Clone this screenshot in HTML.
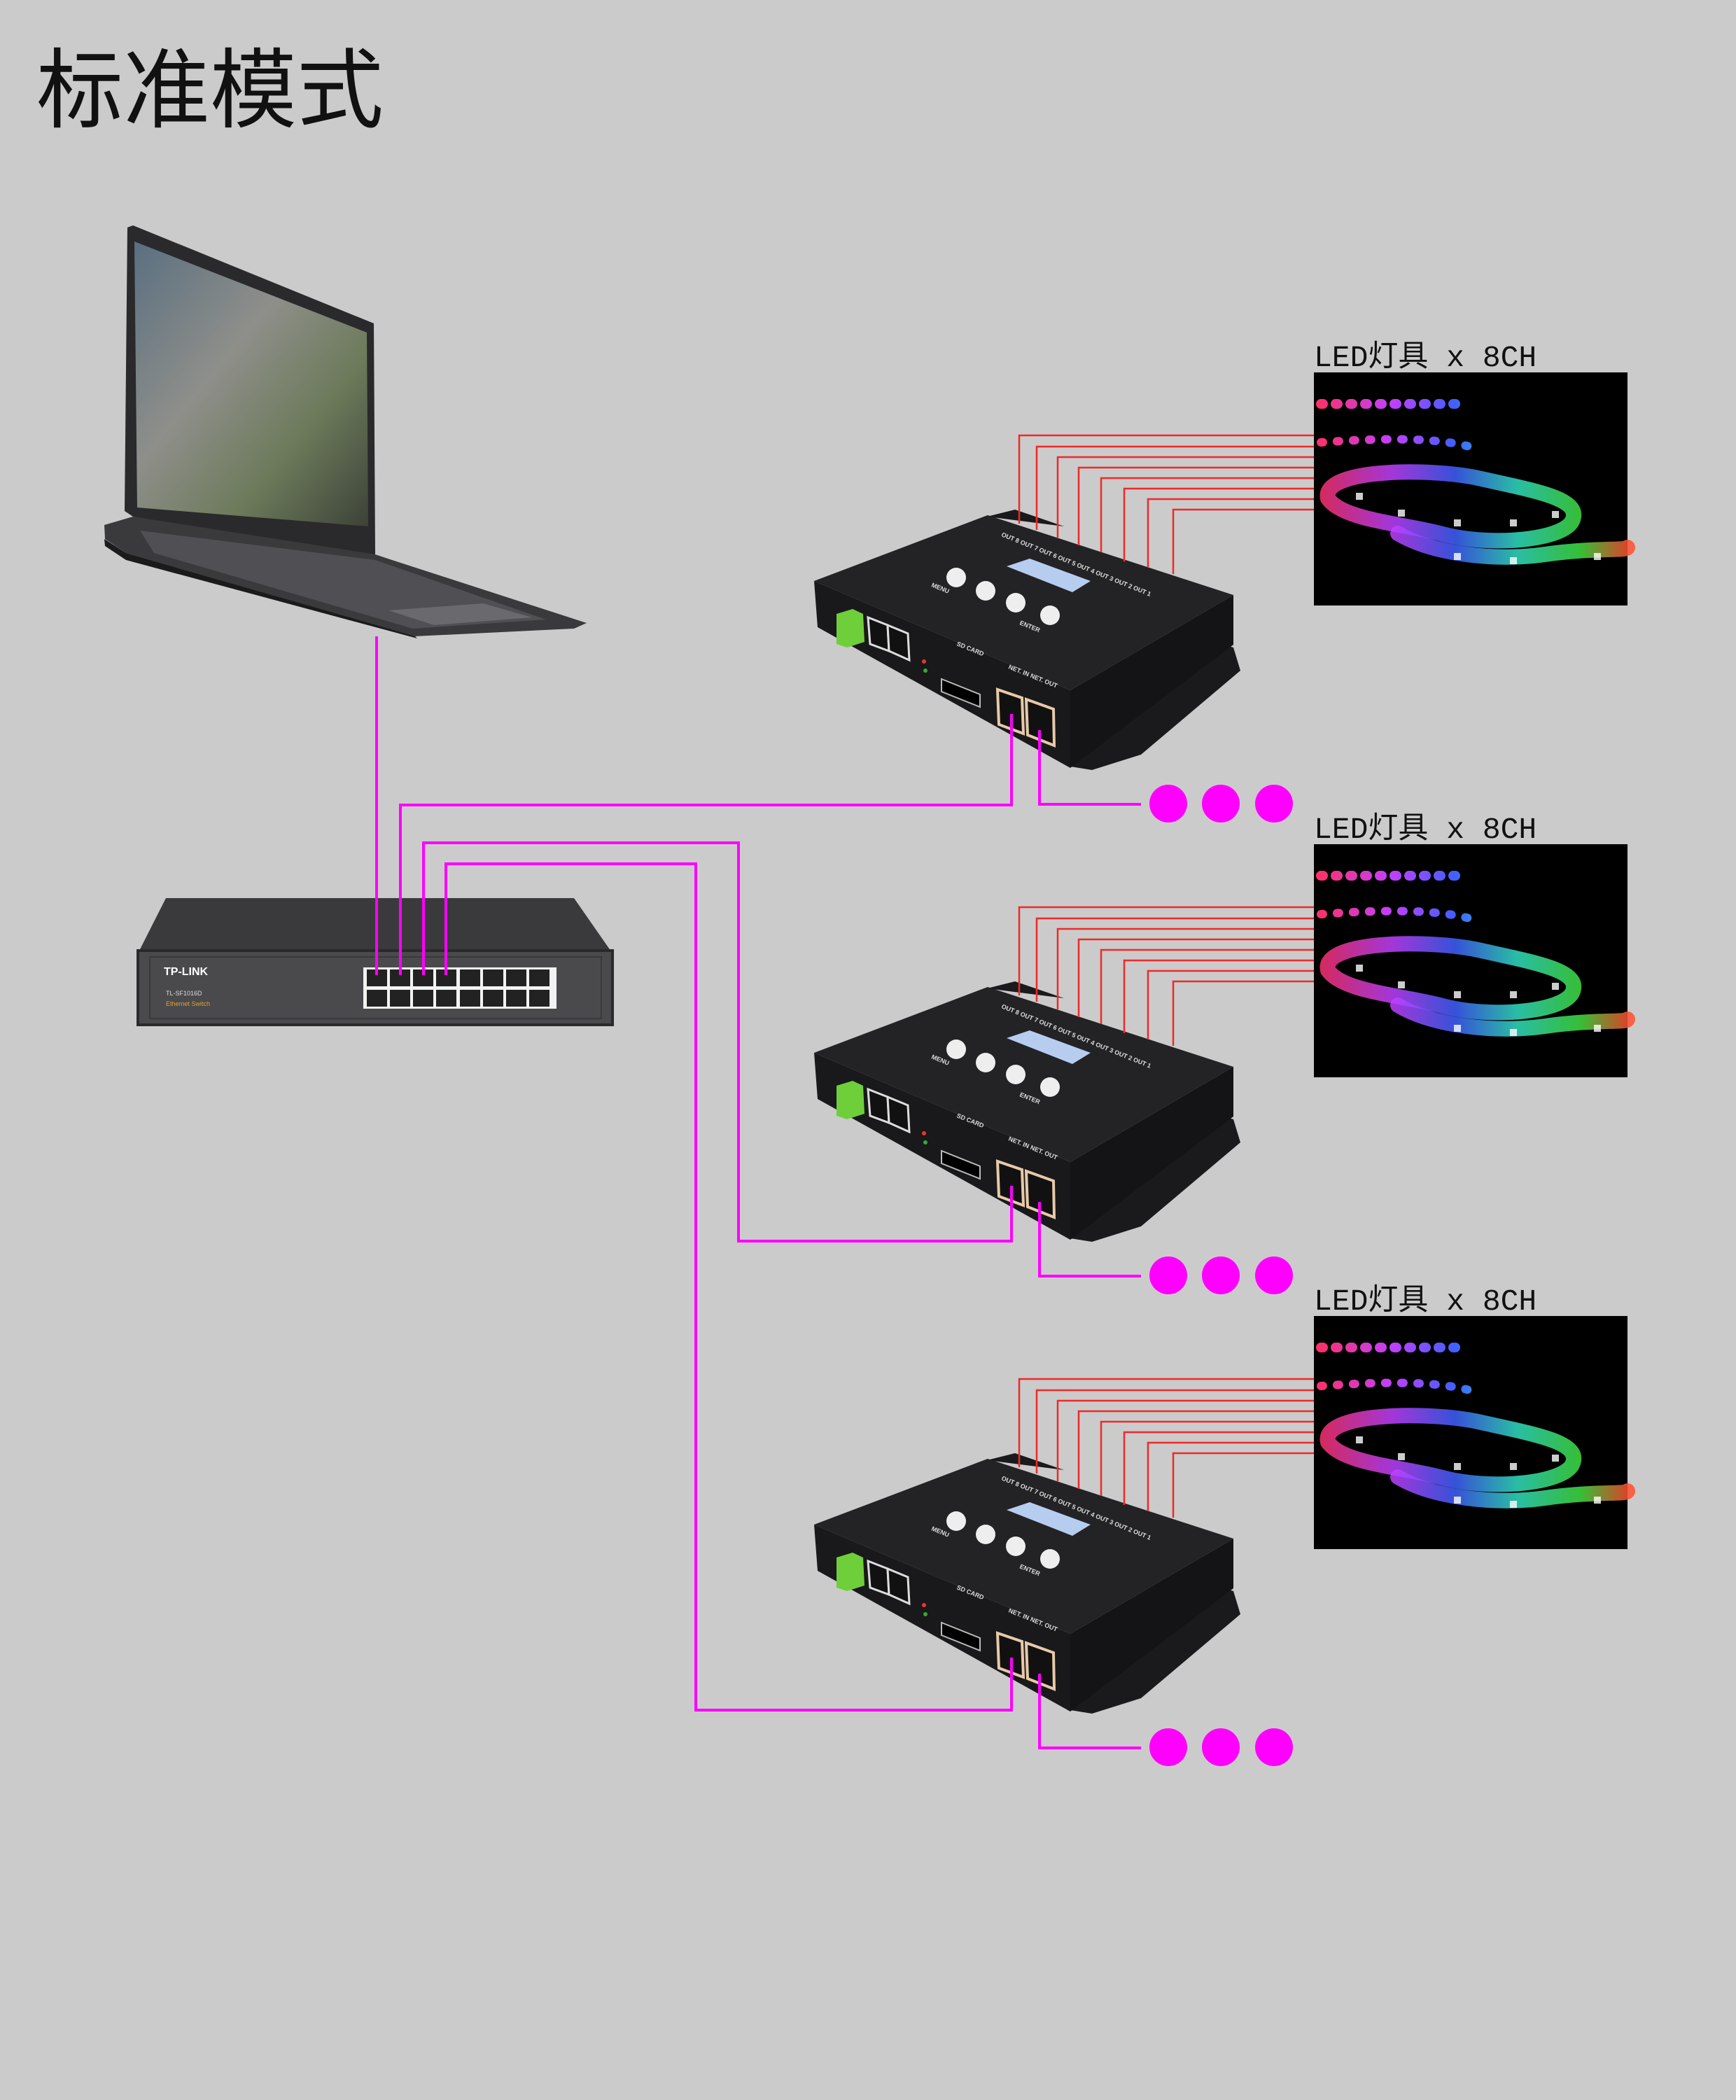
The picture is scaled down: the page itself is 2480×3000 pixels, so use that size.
<!DOCTYPE html>
<html><head><meta charset="utf-8"><style>
html,body{margin:0;padding:0;background:#cbcbcb;}
body{width:2480px;height:3000px;position:relative;overflow:hidden;font-family:"Liberation Sans","Noto Sans CJK SC",sans-serif;}
.title{position:absolute;left:52px;top:68px;font-size:124px;line-height:1;color:#111;font-family:"Liberation Sans","Noto Sans CJK SC",sans-serif;}
.lbl{position:absolute;left:1877px;font-size:43px;line-height:1;color:#111;font-family:"Liberation Mono","Noto Sans CJK SC",monospace;white-space:pre;}
svg{position:absolute;left:0;top:0;}
</style></head><body>
<div class="title">标准模式</div>
<div class="lbl" style="top:490px">LED灯具 x 8CH</div>
<div class="lbl" style="top:1164px">LED灯具 x 8CH</div>
<div class="lbl" style="top:1838px">LED灯具 x 8CH</div>
<svg width="2480" height="3000" viewBox="0 0 2480 3000">
<defs>
<linearGradient id="scr" x1="0" y1="0" x2="1" y2="1">
<stop offset="0" stop-color="#5a6f80"/><stop offset="0.4" stop-color="#8e8f8a"/><stop offset="0.7" stop-color="#6c7a5a"/><stop offset="1" stop-color="#3c4238"/></linearGradient>
<linearGradient id="strip" gradientUnits="userSpaceOnUse" x1="0" y1="0" x2="448" y2="0">
<stop offset="0" stop-color="#ff3060"/><stop offset="0.25" stop-color="#c040ff"/><stop offset="0.45" stop-color="#4060ff"/><stop offset="0.65" stop-color="#30e0c0"/><stop offset="0.85" stop-color="#40e040"/><stop offset="1" stop-color="#ff5030"/></linearGradient>
<g id="led">
<rect x="0" y="0" width="448" height="333" fill="#000"/>
<g fill="none" stroke="url(#strip)" stroke-linecap="round">
<path d="M10 45 L215 45" stroke-width="14" stroke-dasharray="3 18"/>
<path d="M10 100 C80 95 180 90 235 110" stroke-width="12" stroke-dasharray="3 20"/>
<path d="M20 180 C10 140 150 135 230 150 C320 170 380 180 370 210 C360 240 250 250 180 230 C120 215 40 210 20 180 Z" stroke-width="22" opacity="0.85"/>
<path d="M120 230 C170 260 260 270 330 260 C400 250 448 255 448 250" stroke-width="22" opacity="0.85"/>
</g>
<g fill="#fff" opacity="0.8">
<rect x="60" y="172" width="10" height="10"/><rect x="120" y="196" width="10" height="10"/><rect x="200" y="210" width="10" height="10"/><rect x="280" y="210" width="10" height="10"/><rect x="340" y="198" width="10" height="10"/><rect x="200" y="258" width="10" height="10"/><rect x="280" y="264" width="10" height="10"/><rect x="400" y="258" width="10" height="10"/>
</g>
</g>
<g id="ctrl">
<polygon points="1718,912 1762,925 1772,958 1630,1078 1560,1100 1529,1095" fill="#1a1a1c"/>
<polygon points="1410,738 1450,728 1520,752" fill="#1a1a1c"/>
<polygon points="1529,986 1762,850 1762,921 1529,1097" fill="#141416"/>
<polygon points="1163,830 1529,986 1529,1097 1168,896" fill="#19191b"/>
<polygon points="1163,830 1411,736 1762,850 1529,986" fill="#232326"/>
<polygon points="1438,809 1471,798 1558,830 1532,846" fill="#b7cdf0"/>
<circle cx="1366" cy="825" r="14" fill="#eee"/><circle cx="1408" cy="844" r="14" fill="#eee"/><circle cx="1451" cy="861" r="14" fill="#eee"/><circle cx="1500" cy="879" r="14" fill="#eee"/>
<g fill="#ddd" font-family="Liberation Sans" font-size="9" font-weight="bold">
<text x="1430" y="766" transform="rotate(22 1430 766)">OUT 8 OUT 7 OUT 6 OUT 5 OUT 4 OUT 3 OUT 2 OUT 1</text>
<text x="1330" y="838" transform="rotate(22 1330 838)">MENU</text>
<text x="1456" y="892" transform="rotate(22 1456 892)">ENTER</text>
<text x="1440" y="955" transform="rotate(22 1440 955)">NET. IN  NET. OUT</text>
<text x="1366" y="922" transform="rotate(22 1366 922)">SD CARD</text>
</g>
<polygon points="1195,877 1218,870 1233,877 1235,917 1210,925 1195,920" fill="#6fcf3b"/>
<polygon points="1240,882 1268,893 1270,930 1243,920" fill="#111" stroke="#ddd" stroke-width="3"/>
<polygon points="1268,893 1297,905 1299,943 1270,930" fill="#111" stroke="#ddd" stroke-width="3"/>
<circle cx="1320" cy="945" r="3" fill="#e33"/><circle cx="1322" cy="958" r="3" fill="#3a3"/>
<polygon points="1345,970 1400,992 1400,1010 1345,988" fill="#000" stroke="#bbb" stroke-width="2"/>
<polygon points="1425,985 1460,997 1462,1048 1427,1035" fill="#111" stroke="#e8c9a8" stroke-width="4"/>
<polygon points="1466,999 1505,1013 1506,1065 1468,1050" fill="#111" stroke="#e8c9a8" stroke-width="4"/>
<g fill="none" stroke="#ee2a2a" stroke-width="2.5">
<polyline points="1456,748 1456,622 1877,622"/>
<polyline points="1481,757 1481,638 1877,638"/>
<polyline points="1511,768 1511,653 1877,653"/>
<polyline points="1541,779 1541,668 1877,668"/>
<polyline points="1573,789 1573,683 1877,683"/>
<polyline points="1606,802 1606,698 1877,698"/>
<polyline points="1640,811 1640,713 1877,713"/>
<polyline points="1676,820 1676,728 1877,728"/>
</g>
<polyline points="1485,1043 1485,1149 1630,1149" fill="none" stroke="#ff00ff" stroke-width="4"/>
<circle cx="1669" cy="1148" r="27" fill="#ff00ff"/><circle cx="1744" cy="1148" r="27" fill="#ff00ff"/><circle cx="1820" cy="1148" r="27" fill="#ff00ff"/>
</g>
</defs>

<polygon points="182,325 190,322 534,462 536,790 535,800 190,738 178,730" fill="#2a2a2c"/>
<polygon points="192,345 524,475 526,752 196,725" fill="url(#scr)"/>
<polygon points="149,750 190,738 536,792 560,800 838,890 820,898 593,909 560,900 180,790 150,770" fill="#3a3a3c"/>
<polygon points="200,758 536,800 780,885 590,898 220,790" fill="#505054"/>
<polygon points="555,872 690,862 760,882 620,893" fill="#6a6a6e"/>
<polygon points="149,770 180,790 593,909 596,912 180,800 150,780" fill="#1b1b1c"/>

<use href="#led" x="1877" y="532"/>
<use href="#led" x="1877" y="1206"/>
<use href="#led" x="1877" y="1880"/>

<use href="#ctrl"/>
<use href="#ctrl" y="674"/>
<use href="#ctrl" y="1348"/>

<polygon points="237,1283 820,1283 875,1362 197,1362" fill="#3a3a3c"/>
<rect x="197" y="1358" width="678" height="106" fill="#4a4a4d" stroke="#2a2a2c" stroke-width="4"/>
<rect x="214" y="1367" width="645" height="88" fill="none" stroke="#39393b" stroke-width="2"/>
<text x="234" y="1393" font-family="Liberation Sans" font-weight="bold" font-size="16" fill="#fff">TP-LINK</text>
<text x="237" y="1422" font-family="Liberation Sans" font-size="9" fill="#ddd">TL-SF1016D</text>
<text x="237" y="1437" font-family="Liberation Sans" font-size="9" fill="#e0a030">Ethernet Switch</text>
<rect x="519" y="1382" width="276" height="59" fill="#f2f2f2"/>
<g fill="#222">
<rect x="524" y="1385" width="29" height="24"/><rect x="557" y="1385" width="29" height="24"/><rect x="590" y="1385" width="29" height="24"/><rect x="623" y="1385" width="29" height="24"/><rect x="657" y="1385" width="29" height="24"/><rect x="690" y="1385" width="29" height="24"/><rect x="723" y="1385" width="29" height="24"/><rect x="756" y="1385" width="29" height="24"/>
<rect x="524" y="1414" width="29" height="24"/><rect x="557" y="1414" width="29" height="24"/><rect x="590" y="1414" width="29" height="24"/><rect x="623" y="1414" width="29" height="24"/><rect x="657" y="1414" width="29" height="24"/><rect x="690" y="1414" width="29" height="24"/><rect x="723" y="1414" width="29" height="24"/><rect x="756" y="1414" width="29" height="24"/>
</g>

<g fill="none" stroke="#ff00ff" stroke-width="4">
<polyline points="538,909 538,1393"/>
<polyline points="572,1393 572,1150 1445,1150 1445,1020"/>
<polyline points="605,1393 605,1204 1055,1204 1055,1773 1445,1773 1445,1694"/>
<polyline points="637,1393 637,1234 994,1234 994,2443 1445,2443 1445,2368"/>
</g>
</svg>
</body></html>
